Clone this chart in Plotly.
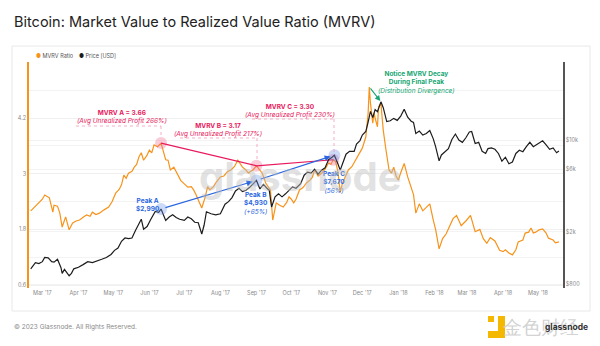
import math
import plotly.graph_objects as go

# ---------------- data ----------------
price_dates = [
 "2017-02-19","2017-02-23","2017-02-26","2017-03-01","2017-03-03","2017-03-06","2017-03-09","2017-03-11",
 "2017-03-14","2017-03-17","2017-03-18","2017-03-20","2017-03-24","2017-03-26","2017-03-28","2017-04-01",
 "2017-04-05","2017-04-09","2017-04-13","2017-04-17","2017-04-21","2017-04-25","2017-04-29","2017-05-02",
 "2017-05-05","2017-05-08","2017-05-11","2017-05-14","2017-05-17","2017-05-20","2017-05-23","2017-05-25",
 "2017-05-27","2017-05-30","2017-06-02","2017-06-06","2017-06-09","2017-06-11","2017-06-13","2017-06-15",
 "2017-06-18","2017-06-21","2017-06-24","2017-06-27","2017-07-01","2017-07-04","2017-07-07","2017-07-10",
 "2017-07-13","2017-07-16","2017-07-18","2017-07-20","2017-07-24","2017-07-28","2017-08-01","2017-08-05",
 "2017-08-08","2017-08-11","2017-08-14","2017-08-17","2017-08-20","2017-08-23","2017-08-26","2017-08-29",
 "2017-09-01","2017-09-04","2017-09-07","2017-09-10","2017-09-12","2017-09-14","2017-09-17","2017-09-20",
 "2017-09-23","2017-09-26","2017-09-29","2017-10-02","2017-10-05","2017-10-09","2017-10-12","2017-10-15",
 "2017-10-18","2017-10-21","2017-10-24","2017-10-27","2017-10-30","2017-11-02","2017-11-05","2017-11-07",
 "2017-11-10","2017-11-12","2017-11-14","2017-11-17","2017-11-20","2017-11-24","2017-11-26","2017-11-29",
 "2017-12-01","2017-12-04","2017-12-06","2017-12-08","2017-12-10","2017-12-12","2017-12-14","2017-12-17",
 "2017-12-19","2017-12-22","2017-12-25","2017-12-28","2017-12-31","2018-01-03","2018-01-06","2018-01-09",
 "2018-01-12","2018-01-14","2018-01-16","2018-01-19","2018-01-22","2018-01-25","2018-01-28","2018-01-31",
 "2018-02-02","2018-02-05","2018-02-07","2018-02-10","2018-02-13","2018-02-16","2018-02-19","2018-02-22",
 "2018-02-25","2018-02-28","2018-03-03","2018-03-05","2018-03-08","2018-03-11","2018-03-14","2018-03-17",
 "2018-03-19","2018-03-22","2018-03-25","2018-03-28","2018-03-31","2018-04-03","2018-04-06","2018-04-09",
 "2018-04-12","2018-04-15","2018-04-18","2018-04-21","2018-04-24","2018-04-27","2018-04-30","2018-05-03",
 "2018-05-05","2018-05-08","2018-05-11","2018-05-14","2018-05-17","2018-05-19"]
price_values = [
 1050,1170,1150,1190,1280,1270,1190,1180,
 1240,1070,970,1040,930,970,1050,1080,
 1130,1190,1170,1200,1240,1280,1350,1450,
 1510,1700,1800,1780,1800,2050,2300,2500,
 2100,2200,2480,2860,2820,2990,2700,2450,
 2600,2700,2580,2500,2450,2600,2520,2370,
 2350,1930,2250,2850,2750,2700,2750,3250,
 3400,3650,4100,4300,4050,4150,4350,4600,
 4930,4250,4600,4300,4150,3100,3700,3900,
 3700,3900,4150,4400,4300,4650,5400,5700,
 5600,6000,5500,5900,6150,7100,7400,7670,
 6600,5900,6600,7800,8200,8200,9300,9900,
 10900,11600,13700,16500,14800,17000,16400,19500,
 17600,13800,14000,14600,14100,15200,17100,14900,
 13900,13600,11200,11700,10900,11200,11800,10200,
 8900,6950,7700,8100,8600,10100,11100,10000,
 9600,10400,11500,11600,9400,9600,8200,7900,
 8600,8700,8500,7900,6900,7400,6600,6800,
 7900,8350,8150,8900,9600,8900,9250,9700,
 9850,9200,8500,8700,8000,8250]

mvrv_dates = [
 "2017-02-19","2017-02-22","2017-02-24","2017-02-26","2017-03-01","2017-03-03","2017-03-05","2017-03-07",
 "2017-03-10","2017-03-11","2017-03-14","2017-03-16","2017-03-18","2017-03-21","2017-03-24","2017-03-27",
 "2017-03-30","2017-04-02","2017-04-05","2017-04-08","2017-04-11","2017-04-13","2017-04-16","2017-04-19",
 "2017-04-23","2017-04-27","2017-04-30","2017-05-03","2017-05-06","2017-05-08","2017-05-10","2017-05-12",
 "2017-05-14","2017-05-17","2017-05-19","2017-05-21","2017-05-23","2017-05-25","2017-05-27","2017-05-30",
 "2017-06-01","2017-06-03","2017-06-05","2017-06-08","2017-06-11","2017-06-13","2017-06-15","2017-06-17",
 "2017-06-19","2017-06-22","2017-06-25","2017-06-28","2017-07-01","2017-07-04","2017-07-07","2017-07-09",
 "2017-07-11","2017-07-13","2017-07-16","2017-07-19","2017-07-21","2017-07-23","2017-07-26","2017-07-28",
 "2017-08-01","2017-08-04","2017-08-07","2017-08-10","2017-08-13","2017-08-16","2017-08-18","2017-08-20",
 "2017-08-23","2017-08-25","2017-08-27","2017-08-29","2017-09-01","2017-09-03","2017-09-06","2017-09-09",
 "2017-09-11","2017-09-13","2017-09-15","2017-09-18","2017-09-21","2017-09-24","2017-09-27","2017-09-29",
 "2017-10-01","2017-10-03","2017-10-05","2017-10-08","2017-10-11","2017-10-14","2017-10-17","2017-10-19",
 "2017-10-21","2017-10-24","2017-10-27","2017-10-30","2017-11-02","2017-11-04","2017-11-06","2017-11-08",
 "2017-11-10","2017-11-12","2017-11-14","2017-11-17","2017-11-19","2017-11-22","2017-11-25","2017-11-27",
 "2017-11-29","2017-12-01","2017-12-04","2017-12-06","2017-12-07","2017-12-08","2017-12-10","2017-12-11",
 "2017-12-12","2017-12-14","2017-12-15","2017-12-17","2017-12-18","2017-12-19","2017-12-21","2017-12-23",
 "2017-12-24","2017-12-26","2017-12-28","2017-12-30","2018-01-01","2018-01-03","2018-01-06","2018-01-09",
 "2018-01-12","2018-01-14","2018-01-16","2018-01-19","2018-01-22","2018-01-25","2018-01-28","2018-01-31",
 "2018-02-02","2018-02-05","2018-02-08","2018-02-11","2018-02-14","2018-02-17","2018-02-20","2018-02-24",
 "2018-02-28","2018-03-04","2018-03-08","2018-03-12","2018-03-15","2018-03-18","2018-03-21","2018-03-25",
 "2018-03-29","2018-04-01","2018-04-03","2018-04-06","2018-04-09","2018-04-12","2018-04-14","2018-04-18",
 "2018-04-20","2018-04-23","2018-04-25","2018-04-27","2018-04-29","2018-05-02","2018-05-05","2018-05-08",
 "2018-05-10","2018-05-14","2018-05-16","2018-05-19"]
mvrv_values = [
 2.20,2.28,2.33,2.37,2.45,2.54,2.50,2.48,
 2.17,2.32,2.30,2.15,1.85,2.07,1.79,1.94,
 1.98,2.00,2.06,2.11,2.08,2.17,2.12,2.15,
 2.22,2.28,2.40,2.58,2.66,2.76,2.97,2.90,
 3.01,3.05,3.14,3.20,3.36,3.45,3.29,3.40,
 3.51,3.45,3.62,3.58,3.66,3.50,3.30,3.29,
 3.08,3.14,3.01,2.85,2.78,2.71,2.72,2.65,
 2.55,2.43,2.26,2.50,2.72,2.65,2.72,2.80,
 2.93,2.95,3.04,3.08,3.15,3.29,3.20,3.14,
 3.08,3.01,3.05,3.08,3.17,3.10,3.01,2.80,
 2.72,2.65,2.00,2.37,2.32,2.28,2.38,2.50,
 2.45,2.37,2.45,2.65,2.70,2.80,2.86,2.92,
 3.08,2.95,3.01,3.10,3.23,3.20,3.30,3.26,
 3.05,2.60,2.80,2.95,3.08,3.15,3.29,3.38,
 3.45,3.55,3.79,4.30,4.87,4.52,4.09,4.31,
 4.20,4.01,4.44,4.52,4.22,3.94,3.57,3.23,
 3.08,3.01,3.14,2.95,2.86,3.02,3.22,2.93,
 2.69,2.55,2.15,2.35,2.20,2.28,2.35,2.00,
 1.80,1.38,1.60,1.70,1.85,2.03,2.10,1.88,
 1.98,2.10,1.75,1.80,1.60,1.50,1.62,1.55,
 1.35,1.32,1.36,1.29,1.25,1.36,1.53,1.57,
 1.72,1.74,1.83,1.72,1.74,1.79,1.81,1.72,
 1.61,1.57,1.51,1.53]

peak_labels = ["A", "B", "C"]
mvrv_peak_dates = ["2017-06-11", "2017-09-01", "2017-11-06"]
mvrv_peak_values = [3.66, 3.17, 3.30]
mvrv_peak_profit = ["266%", "217%", "230%"]
price_peak_dates = ["2017-06-11", "2017-09-01", "2017-11-07"]
price_peak_values = [2990, 4930, 7670]
price_peak_change = ["", "(+65%)", "(56%)"]
final_mvrv_peak = ("2017-12-07", 4.87)
final_price_peak = ("2017-12-17", 19500)

month_ticks = ["2017-03-01","2017-04-01","2017-05-01","2017-06-01","2017-07-01","2017-08-01","2017-09-01",
               "2017-10-01","2017-11-01","2017-12-01","2018-01-01","2018-02-01","2018-03-01","2018-04-01","2018-05-01"]
month_labels = ["Mar '17","Apr '17","May '17","Jun '17","Jul '17","Aug '17","Sep '17","Oct '17","Nov '17",
                "Dec '17","Jan '18","Feb '18","Mar '18","Apr '18","May '18"]
mvrv_ticks = [0.6, 1.8, 3, 4.2]
mvrv_tick_labels = ["0.6", "1.8", "3", "4.2"]
price_ticks = [800, 2000, 6000, 10000]
price_tick_labels = ["$800", "$2k", "$6k", "$10k"]

# ---------------- layout helpers ----------------
W, H = 600, 346
L, R, T, B = 29, 563, 62, 288
def px(x): return (x - L) / (R - L)
def py(y): return (B - y) / (B - T)

ORANGE = "#f7931a"
BLACK = "#1c1c1c"
PINK = "#e8185c"
PINK_L = "#f29ab7"
BLUE = "#2a66e0"
GREEN = "#17a673"
FONT = "Inter"

fig = go.Figure()

fig.add_trace(go.Scatter(x=price_dates, y=price_values, yaxis="y2", mode="lines",
                         line=dict(color=BLACK, width=1.2), name="Price [USD]"))
fig.add_trace(go.Scatter(x=mvrv_dates, y=mvrv_values, yaxis="y", mode="lines",
                         line=dict(color=ORANGE, width=1.2), name="MVRV Ratio"))

# peak circles
fig.add_trace(go.Scatter(x=price_peak_dates, y=price_peak_values, yaxis="y2", mode="markers",
                         marker=dict(size=12, color="rgba(110,150,235,0.35)", line=dict(width=0))))
fig.add_trace(go.Scatter(x=mvrv_peak_dates, y=mvrv_peak_values, yaxis="y", mode="markers",
                         marker=dict(size=12, color="rgba(240,110,150,0.35)", line=dict(width=0))))
# pink connecting line
fig.add_trace(go.Scatter(x=mvrv_peak_dates, y=mvrv_peak_values, yaxis="y", mode="lines",
                         line=dict(color=PINK, width=1.2)))

ann = []
shapes = []

# blue arrows between price peaks
for i in range(2):
    ann.append(dict(x=price_peak_dates[i+1], y=math.log10(price_peak_values[i+1]), xref="x", yref="y2",
                    ax=price_peak_dates[i], ay=math.log10(price_peak_values[i]), axref="x", ayref="y2",
                    showarrow=True, arrowhead=2, arrowsize=1, arrowwidth=1.2, arrowcolor=BLUE,
                    standoff=4, startstandoff=3, text=""))

# green arrow: MVRV final peak -> price final peak
tail_y_px = 118 - (final_mvrv_peak[1] - 4.2) * 46.4
tail_log = 4 + (140 - tail_y_px) / 131.6
ann.append(dict(x=final_price_peak[0], y=math.log10(final_price_peak[1]), xref="x", yref="y2",
                ax=final_mvrv_peak[0], ay=tail_log, axref="x", ayref="y2",
                showarrow=True, arrowhead=2, arrowsize=1, arrowwidth=1.1, arrowcolor=GREEN,
                standoff=1, text=""))

def text(x, y, t, color, size=6.5, xanchor="center", yanchor="middle"):
    ann.append(dict(x=px(x), y=py(y), xref="paper", yref="paper", text=t, showarrow=False,
                    xanchor=xanchor, yanchor=yanchor, align="center",
                    font=dict(family=FONT, size=size, color=color)))

# MVRV labels
mv_pos = [(122, 117), (218, 130), (290, 111)]
for (cx, cy), lab, v, p in zip(mv_pos, peak_labels, mvrv_peak_values, mvrv_peak_profit):
    text(cx, cy, f"<b>MVRV {lab} = {v:.2f}</b><br><i>(Avg Unrealized Profit {p})</i>", PINK, 6.5)

# dotted leader lines
leaders = [((76, 126), (161, 126), (161, 137)),
           ((180, 138), (257, 138), (257, 160)),
           ((252, 119), (334, 119), (334, 152))]
for a, b, c in leaders:
    for p0, p1 in ((a, b), (b, c)):
        shapes.append(dict(type="line", xref="paper", yref="paper",
                           x0=px(p0[0]), y0=py(p0[1]), x1=px(p1[0]), y1=py(p1[1]),
                           line=dict(color=PINK_L, width=0.8, dash="dot")))

# price peak labels
pk_pos = [(148, 205), (256, 203), (334, 182)]
for (cx, cy), lab, v, ch in zip(pk_pos, peak_labels, price_peak_values, price_peak_change):
    t = f"<b>Peak {lab}</b><br><b>${v:,}</b>"
    if ch:
        t += f"<br><i>{ch}</i>"
    text(cx, cy, t, BLUE, 6.5)

text(416, 82, "<b>Notice MVRV Decay</b><br><b>During Final Peak</b><br><i>(Distribution Divergence)</i>", GREEN, 6.5)

# watermark
text(300, 176, "<b>glassnode</b>", "rgba(190,190,190,0.45)", 40)

# title, legend, footer
text(12, 21, "Bitcoin: Market Value to Realized Value Ratio (MVRV)", "#222222", 14.5, xanchor="left")
text(34, 56, f"<span style='color:{ORANGE}'>●</span> MVRV Ratio", "#555555", 5.5, xanchor="left")
text(77, 56, f"<span style='color:{BLACK}'>●</span> Price [USD]", "#555555", 5.5, xanchor="left")
text(12, 327, "© 2023 Glassnode. All Rights Reserved.", "#8a8a8a", 6.5, xanchor="left")

# bottom-right marks
text(541, 327, "金色财经", "rgba(205,205,205,0.9)", 19)
text(566, 327, "<b>glassnode</b>", "#333333", 8.5)
shapes.append(dict(type="rect", xref="paper", yref="paper", x0=px(488), x1=px(494), y0=py(322), y1=py(316),
                   fillcolor="#f5b800", line=dict(width=0)))
shapes.append(dict(type="path", xref="paper", yref="paper",
                   path=f"M {px(498)} {py(316)} L {px(505)} {py(316)} L {px(505)} {py(338)} L {px(488)} {py(338)} L {px(488)} {py(331)} L {px(498)} {py(331)} Z",
                   fillcolor="#f5b800", line=dict(width=0)))

# card
shapes.insert(0, dict(type="rect", xref="paper", yref="paper", x0=px(12), x1=px(590), y0=py(311), y1=py(46),
                      line=dict(color="#e8e8e8", width=1), fillcolor="white", layer="below"))

fig.update_layout(
    width=W, height=H,
    margin=dict(l=L, r=W - R, t=T, b=H - B),
    paper_bgcolor="white", plot_bgcolor="rgba(0,0,0,0)",
    showlegend=False,
    annotations=ann, shapes=shapes,
    font=dict(family=FONT),
    xaxis=dict(type="date", range=["2017-02-17 12:00", "2018-05-22 12:00"],
               tickvals=month_ticks, ticktext=month_labels, showgrid=False, showline=False, zeroline=False,
               ticks="", tickfont=dict(size=5.5, color="#8a8a8a")),
    yaxis=dict(range=[0.536, 5.407], tickvals=mvrv_ticks, ticktext=mvrv_tick_labels,
               showline=True, linecolor=ORANGE, linewidth=1.5, zeroline=False,
               showgrid=True, gridcolor="#f0f0f0", gridwidth=1,
               minor=dict(tickvals=[1.2, 2.4, 3.6, 4.8], showgrid=True, gridcolor="#f3f3f3"),
               ticks="", tickfont=dict(size=5.5, color="#8a8a8a")),
    yaxis2=dict(type="log", range=[2.8754, 4.5927], overlaying="y", side="right",
                tickvals=price_ticks, ticktext=price_tick_labels,
                showline=True, linecolor="#555555", linewidth=1.5, zeroline=False,
                showgrid=True, gridcolor="#f3f3f3",
                ticks="", tickfont=dict(size=5.5, color="#8a8a8a")),
)

fig.write_html("out.html")
